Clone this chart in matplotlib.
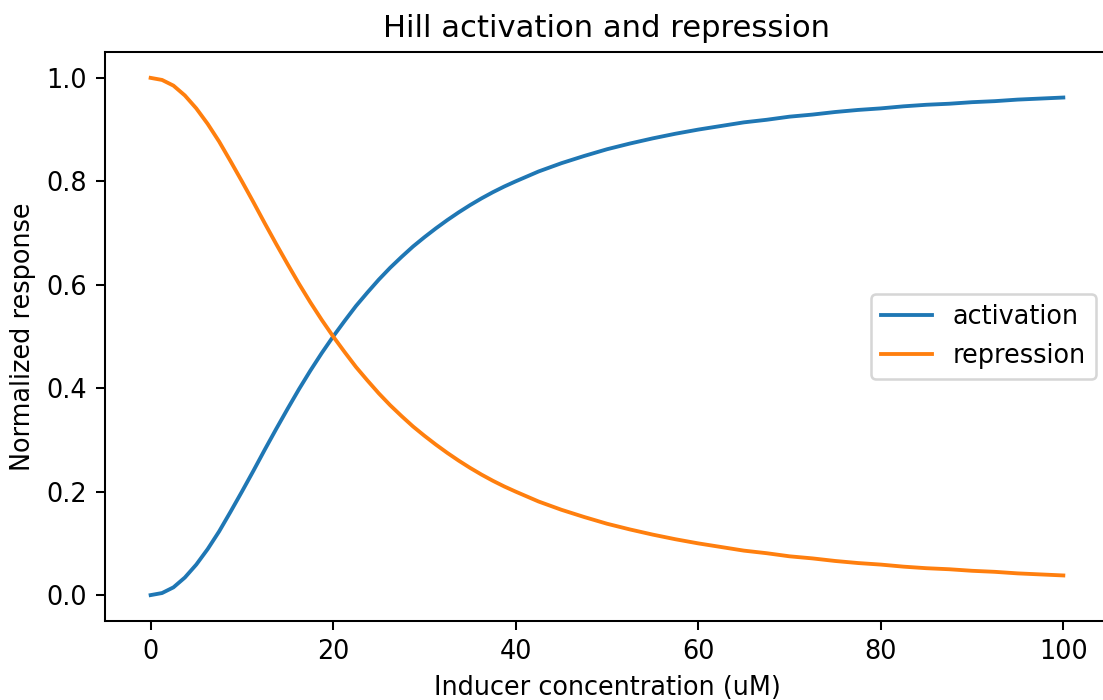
import matplotlib
matplotlib.use("Agg")
import matplotlib.pyplot as plt

# Values
inducer_uM = [0, 1.25, 2.5, 3.75, 5, 6.25, 7.5, 8.75, 10, 11.25, 12.5, 13.75,
              15, 16.25, 17.5, 18.75, 20, 21.25, 22.5, 23.75, 25, 26.25, 27.5,
              28.75, 30, 31.25, 32.5, 33.75, 35, 36.25, 37.5, 38.75, 40, 42.5,
              45, 47.5, 50, 52.5, 55, 57.5, 60, 62.5, 65, 67.5, 70, 72.5, 75,
              77.5, 80, 82.5, 85, 87.5, 90, 92.5, 95, 97.5, 100]
activation = [0.0, 0.004, 0.015, 0.034, 0.059, 0.089, 0.123, 0.161, 0.200,
              0.240, 0.281, 0.321, 0.360, 0.398, 0.434, 0.468, 0.500, 0.530,
              0.559, 0.585, 0.610, 0.633, 0.654, 0.674, 0.692, 0.709, 0.725,
              0.740, 0.754, 0.767, 0.779, 0.790, 0.800, 0.819, 0.835, 0.849,
              0.862, 0.873, 0.883, 0.892, 0.900, 0.907, 0.914, 0.919, 0.925,
              0.929, 0.934, 0.938, 0.941, 0.945, 0.948, 0.950, 0.953, 0.955,
              0.958, 0.960, 0.962]
repression = [1.0, 0.996, 0.985, 0.966, 0.941, 0.911, 0.877, 0.839, 0.800,
              0.760, 0.719, 0.679, 0.640, 0.602, 0.566, 0.532, 0.500, 0.470,
              0.441, 0.415, 0.390, 0.367, 0.346, 0.326, 0.308, 0.291, 0.275,
              0.260, 0.246, 0.233, 0.221, 0.210, 0.200, 0.181, 0.165, 0.151,
              0.138, 0.127, 0.117, 0.108, 0.100, 0.093, 0.086, 0.081, 0.075,
              0.071, 0.066, 0.062, 0.059, 0.055, 0.052, 0.050, 0.047, 0.045,
              0.042, 0.040, 0.038]

fig = plt.figure(figsize=(1103 / 184, 700 / 184), dpi=184)
ax = fig.add_axes([0.0952, 0.1129, 0.9102, 0.8128])
ax.plot(inducer_uM, activation, label="activation")
ax.plot(inducer_uM, repression, label="repression")
ax.set_title("Hill activation and repression")
ax.set_xlabel("Inducer concentration (uM)")
ax.set_ylabel("Normalized response")
ax.legend(loc="center right")
fig.savefig("out.png", dpi=184)
